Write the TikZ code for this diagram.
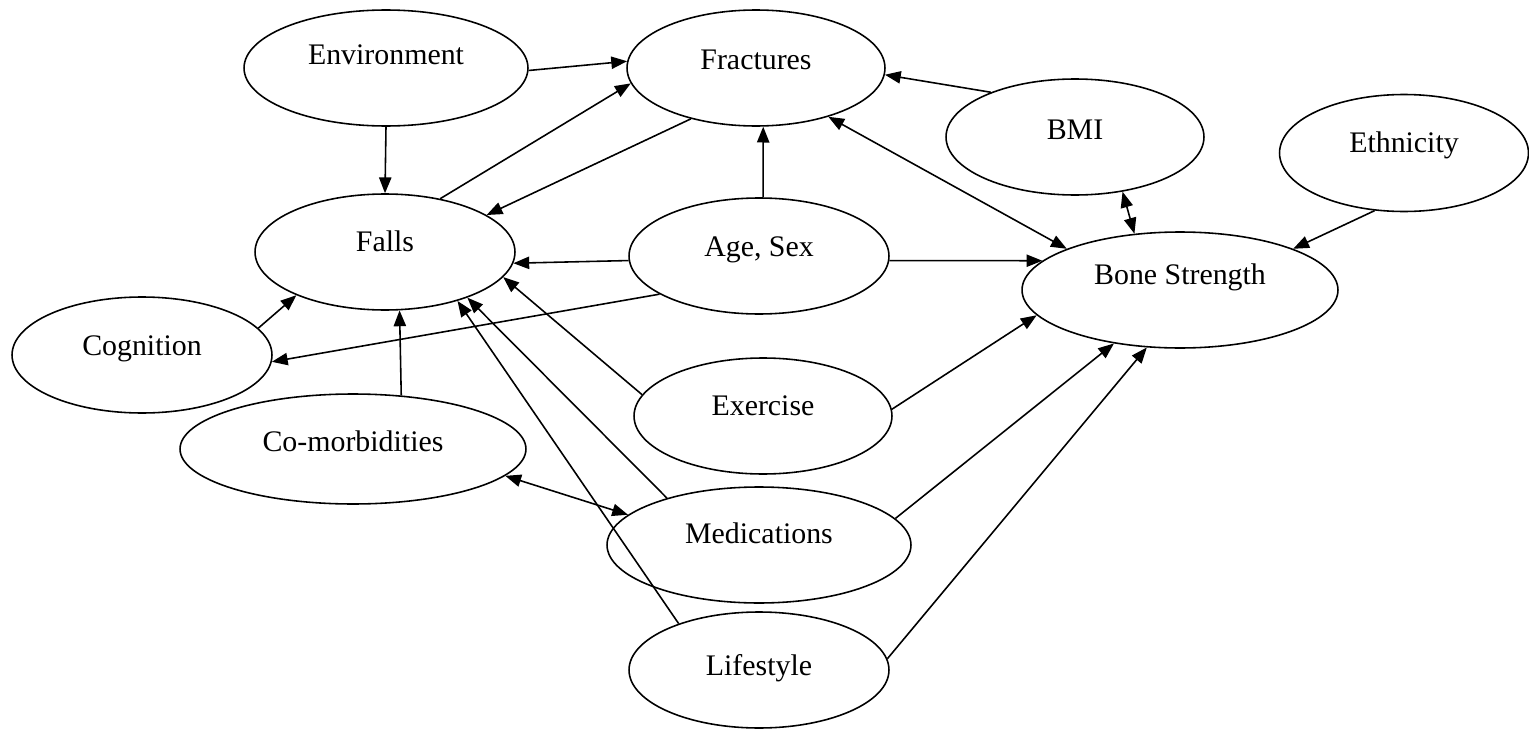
\documentclass[tikz,border=0pt]{standalone}
\usepackage{fontspec}
\setmainfont{Liberation Serif}
\usetikzlibrary{shapes.geometric,arrows.meta}
\begin{document}
\begin{tikzpicture}[x=0.02cm,y=-0.02cm,line join=round,line width=0.9pt,>={Triangle[length=9pt,width=7pt]},
  factor/.style={ellipse,draw,inner sep=0pt,font=\fontsize{17}{20}\selectfont,text height=12pt,text depth=4pt},
  lift/.style={text depth=#1}]
\useasboundingbox (0,0) rectangle (1529,737);

\node[factor,lift=16.5pt,minimum width=5.68cm,minimum height=2.32cm] (env)   at (386,68)   {Environment};
\node[factor,lift=10.8pt,minimum width=5.16cm,minimum height=2.32cm] (frac)  at (756,68)   {Fractures};
\node[factor,lift=8.6pt,minimum width=5.16cm,minimum height=2.32cm]  (bmi)   at (1075,137) {BMI};
\node[factor,lift=13pt,minimum width=4.98cm,minimum height=2.34cm]   (eth)   at (1404,153) {Ethnicity};
\node[factor,lift=13pt,minimum width=5.2cm,minimum height=2.32cm]    (falls) at (385,252)  {Falls};
\node[factor,lift=12pt,minimum width=5.2cm,minimum height=2.32cm]    (age)   at (759,256)  {Age, Sex};
\node[factor,lift=17.7pt,minimum width=6.32cm,minimum height=2.32cm] (bone)  at (1180,290) {Bone Strength};
\node[factor,lift=12pt,minimum width=5.2cm,minimum height=2.32cm]    (cog)   at (142,355)  {Cognition};
\node[factor,lift=9.7pt,minimum width=6.92cm,minimum height=2.2cm]   (comor) at (353,449)  {Co-morbidities};
\node[factor,lift=13pt,minimum width=5.16cm,minimum height=2.32cm]   (exer)  at (763,416)  {Exercise};
\node[factor,lift=14.2pt,minimum width=6.08cm,minimum height=2.32cm] (med)   at (759,545)  {Medications};
\node[factor,lift=6.3pt,minimum width=5.2cm,minimum height=2.32cm]   (life)  at (759,670)  {Lifestyle};

\draw[->] (env.359) -- (frac.177);
\draw[->] (env.270) -- (falls.90);
\draw[->] (falls.44.5) -- (frac.187);
\draw[->] (frac.218.5) -- (falls.20.4);
\draw[->] (bmi.152) -- (frac.357.7);
\draw[<->] (frac.326) -- (bone.160);
\draw[<->] (bmi.311.5) -- (bone.129.5);
\draw[->] (eth.243.8) -- (bone.20.9);
\draw[->] (age.86) -- (frac.277);
\draw[->] (age.182.7) -- (falls.355.5);
\draw[->] (age.358) -- (bone.168.4);
\draw[->] (age.201) -- (cog.357.8);
\draw[->] (cog.13.1) -- (falls.206.8);
\draw[->] (comor.48.4) -- (falls.284.6);
\draw[<->] (comor.350.9) -- (med.167.2);
\draw[->] (exer.170.5) -- (falls.348.5);
\draw[->] (exer.3.5) -- (bone.190.2);
\draw[->] (med.153) -- (falls.331.9);
\draw[->] (med.11.2) -- (bone.219.4);
\draw[->] (life.150.3) -- (falls.326.8);
\draw[->] (life.5.8) -- (bone.240.4);
\end{tikzpicture}
\end{document}
